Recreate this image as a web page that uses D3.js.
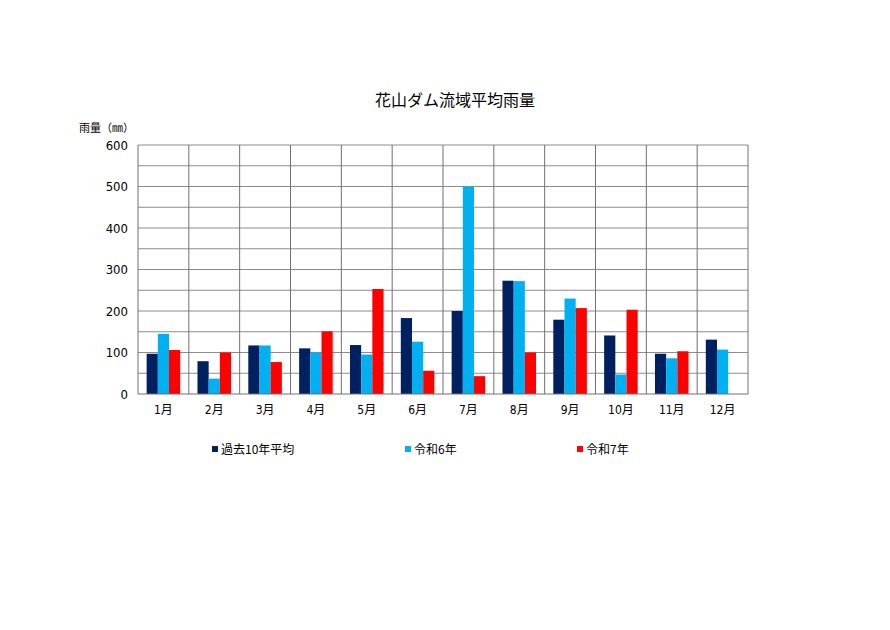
<!DOCTYPE html>
<html>
<head>
<meta charset="utf-8">
<script src="https://cdn.jsdelivr.net/npm/d3@7"></script>
<style>
  body { margin: 0; background: #fff; }
  text { font-family: "Noto Sans CJK JP", sans-serif; fill: #000; }
  .num { font-family: "Liberation Sans Narrow", "DejaVu Sans Condensed", "Noto Sans CJK JP", sans-serif; font-stretch: condensed; }
</style>
</head>
<body>
<svg id="chart" width="890" height="630"></svg>
<script>
// months on the x axis
const months = ["1月", "2月", "3月", "4月", "5月", "6月", "7月", "8月", "9月", "10月", "11月", "12月"];
// series names
const seriesNames = ["過去10年平均", "令和6年", "令和7年"];
// rainfall (mm)
const avg10 = [97, 79, 117, 110, 118, 183, 200, 273, 179, 141, 97, 131];
const r6 = [145, 37, 117, 100, 95, 126, 500, 272, 230, 47, 86, 107];
const r7 = [106, 100, 77, 151, 253, 56, 43, 100, 207, 203, 103, null];
const yTicks = [0, 100, 200, 300, 400, 500, 600];
const colors = ["#002060", "#00b0f0", "#ff0000"];

const svg = d3.select("#chart");
const margin = { top: 145, right: 142, bottom: 236, left: 138 };
const width = +svg.attr("width") - margin.left - margin.right;
const height = +svg.attr("height") - margin.top - margin.bottom;

const g = svg.append("g").attr("transform", `translate(${margin.left},${margin.top})`);

const x = d3.scaleBand().domain(months).range([0, width]);
const x1 = d3.scaleBand().domain(seriesNames).range([x.bandwidth() * 0.17, x.bandwidth() * 0.83]);
const y = d3.scaleLinear().domain([0, 600]).range([height, 0]);

// horizontal gridlines (every 50)
g.append("g")
  .selectAll("line")
  .data(d3.range(50, 601, 50))
  .join("line")
  .attr("x1", 0)
  .attr("x2", width)
  .attr("y1", (d) => y(d))
  .attr("y2", (d) => y(d))
  .attr("stroke", "#8c8c8c")
  .attr("stroke-width", 1);

// vertical category separators
g.append("g")
  .selectAll("line")
  .data(months)
  .join("line")
  .attr("x1", (d) => x(d))
  .attr("x2", (d) => x(d))
  .attr("y1", 0)
  .attr("y2", height)
  .attr("stroke", "#707070")
  .attr("stroke-width", 1);

g.append("line")
  .attr("x1", width).attr("x2", width)
  .attr("y1", 0).attr("y2", height)
  .attr("stroke", "#707070");

// bars
const seriesData = [avg10, r6, r7];
seriesData.forEach((vals, si) => {
  g.append("g")
    .selectAll("rect")
    .data(months.map((m, i) => ({ m, v: vals[i] })).filter((d) => d.v != null))
    .join("rect")
    .attr("x", (d) => x(d.m) + x1(seriesNames[si]))
    .attr("y", (d) => y(d.v))
    .attr("width", x1.bandwidth())
    .attr("height", (d) => height - y(d.v))
    .attr("fill", colors[si]);
});

// x axis line
g.append("line")
  .attr("x1", 0).attr("x2", width)
  .attr("y1", height).attr("y2", height)
  .attr("stroke", "#707070");

// y tick labels
g.append("g")
  .selectAll("text")
  .data(yTicks)
  .join("text")
  .attr("class", "num")
  .attr("x", -10)
  .attr("y", (d) => y(d))
  .attr("dy", "0.35em")
  .attr("text-anchor", "end")
  .style("font-size", "13px")
  .text((d) => d);

// x labels
g.append("g")
  .selectAll("text")
  .data(months)
  .join("text")
  .attr("class", "num")
  .attr("x", (d) => x(d) + x.bandwidth() / 2)
  .attr("y", height + 16)
  .attr("dy", "0.35em")
  .attr("text-anchor", "middle")
  .style("font-size", "12px")
  .text((d) => d);

// title
svg.append("text")
  .attr("x", 455)
  .attr("y", 100)
  .attr("dy", "0.35em")
  .attr("text-anchor", "middle")
  .style("font-size", "16px")
  .text("花山ダム流域平均雨量");

// y axis label
svg.append("text")
  .attr("x", 79)
  .attr("y", 128)
  .attr("dy", "0.35em")
  .style("font-size", "11px")
  .text("雨量（㎜）");

// legend
const legendX = [212, 405, 577];
const legend = svg.append("g");
seriesNames.forEach((name, i) => {
  legend.append("rect")
    .attr("x", legendX[i])
    .attr("y", 446)
    .attr("width", 6)
    .attr("height", 6)
    .attr("fill", colors[i]);
  legend.append("text")
    .attr("x", legendX[i] + 9)
    .attr("y", 450)
    .attr("dy", "0.35em")
    .style("font-size", "12px")
    .text(name);
});
</script>
</body>
</html>
